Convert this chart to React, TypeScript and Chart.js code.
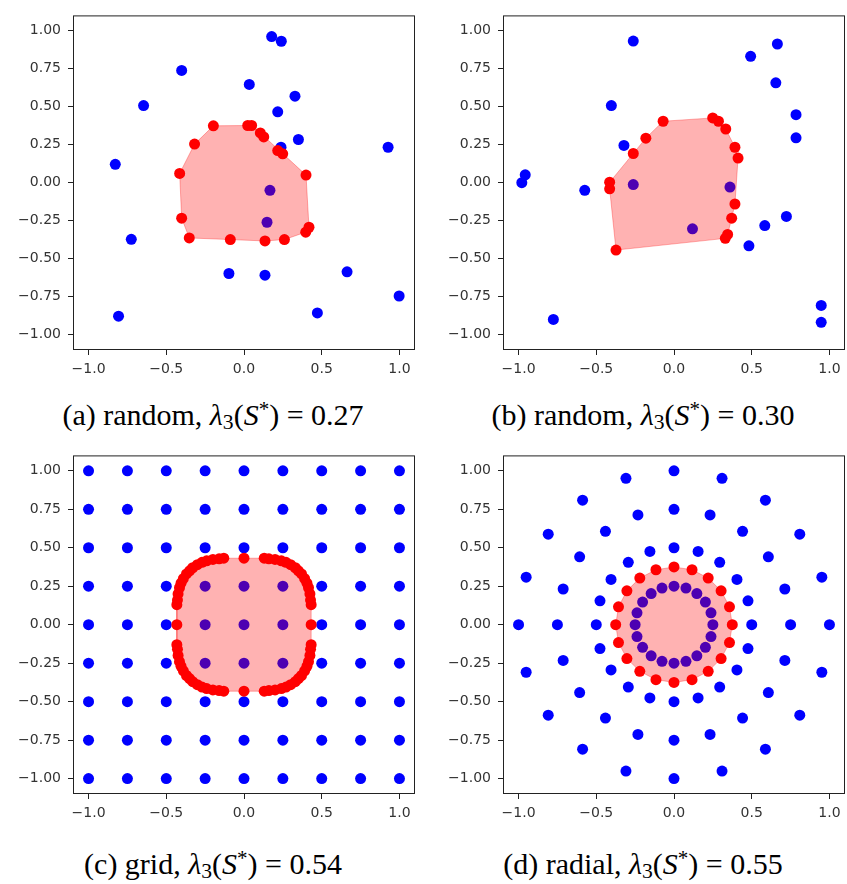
import React, { useEffect, useRef } from "react";
import { Chart, registerables } from "chart.js";

Chart.register(...registerables);

type P = [number, number];

// ---------- axes ----------
const xTickValues = [-1, -0.5, 0, 0.5, 1];
const yTickValues = [-1, -0.75, -0.5, -0.25, 0, 0.25, 0.5, 0.75, 1];
const axisMin = -1.1;
const axisMax = 1.1;

// ---------- captions ----------
const captionLabels = ["(a) random", "(b) random", "(c) grid", "(d) radial"];
const lambdaValues = ["0.27", "0.30", "0.54", "0.55"];

// ---------- (a) random ----------
const aBlue: P[] = [
  [0.178, 0.961], [0.24, 0.93], [-0.401, 0.738], [0.034, 0.646], [-0.646, 0.507],
  [0.328, 0.569], [0.217, 0.466], [0.35, 0.284], [0.238, 0.233], [0.927, 0.233],
  [-0.828, 0.121], [-0.725, -0.372], [-0.097, -0.597], [0.135, -0.608], [0.663, -0.586],
  [0.998, -0.745], [-0.807, -0.878], [0.472, -0.856], [0.167, -0.05], [0.148, -0.26],
];
const aRed: P[] = [
  [-0.197, 0.374], [0.024, 0.376], [0.049, 0.376], [0.105, 0.327], [0.127, 0.301],
  [-0.318, 0.254], [0.217, 0.211], [0.249, 0.19], [-0.414, 0.061], [0.399, 0.05],
  [-0.401, -0.233], [0.418, -0.293], [0.397, -0.325], [-0.352, -0.363], [-0.088, -0.374],
  [0.135, -0.383], [0.26, -0.374],
];

// ---------- (b) random ----------
const bBlue: P[] = [
  [-0.262, 0.931], [0.665, 0.912], [0.493, 0.831], [0.655, 0.657], [-0.403, 0.507],
  [0.785, 0.447], [0.785, 0.295], [-0.322, 0.245], [-0.957, 0.052], [-0.979, 0.0],
  [-0.574, -0.05], [0.723, -0.222], [0.584, -0.282], [0.482, -0.415], [-0.776, -0.899],
  [0.947, -0.807], [0.947, -0.918], [-0.262, -0.012], [0.36, -0.029], [0.119, -0.303],
];
const bRed: P[] = [
  [-0.07, 0.404], [-0.181, 0.293], [-0.262, 0.192], [-0.414, 0.003], [-0.414, -0.04],
  [-0.373, -0.443], [0.249, 0.426], [0.286, 0.404], [0.333, 0.353], [0.392, 0.233],
  [0.412, 0.162], [0.392, -0.14], [0.371, -0.233], [0.345, -0.34], [0.33, -0.366],
];

// ---------- (c) grid ----------
const gridValues = [-1, -0.75, -0.5, -0.25, 0, 0.25, 0.5, 0.75, 1];
const cRed: P[] = [
  [0, 0.432], [0.13, 0.432], [0.16, 0.428], [0.2, 0.424], [0.24, 0.415], [0.27, 0.405], [0.3, 0.39], [0.33, 0.37],
  [0.35, 0.35], [0.37, 0.33], [0.39, 0.3], [0.405, 0.27], [0.415, 0.24], [0.424, 0.2], [0.428, 0.16], [0.432, 0.13],
  [0.432, 0], [0.432, -0.13], [0.428, -0.16], [0.424, -0.2], [0.415, -0.24], [0.405, -0.27], [0.39, -0.3], [0.37, -0.33],
  [0.35, -0.35], [0.33, -0.37], [0.3, -0.39], [0.27, -0.405], [0.24, -0.415], [0.2, -0.424], [0.16, -0.428], [0.13, -0.432],
  [0, -0.432], [-0.13, -0.432], [-0.16, -0.428], [-0.2, -0.424], [-0.24, -0.415], [-0.27, -0.405], [-0.3, -0.39], [-0.33, -0.37],
  [-0.35, -0.35], [-0.37, -0.33], [-0.39, -0.3], [-0.405, -0.27], [-0.415, -0.24], [-0.424, -0.2], [-0.428, -0.16], [-0.432, -0.13],
  [-0.432, 0], [-0.432, 0.13], [-0.428, 0.16], [-0.424, 0.2], [-0.415, 0.24], [-0.405, 0.27], [-0.39, 0.3], [-0.37, 0.33],
  [-0.35, 0.35], [-0.33, 0.37], [-0.3, 0.39], [-0.27, 0.405], [-0.24, 0.415], [-0.2, 0.424], [-0.16, 0.428], [-0.13, 0.432],
];

// ---------- (d) radial ----------
const dRing100: P[] = [
  [1, 0], [0.951, 0.309], [0.809, 0.588], [0.588, 0.809], [0.309, 0.951],
  [0, 1], [-0.309, 0.951], [-0.588, 0.809], [-0.809, 0.588], [-0.951, 0.309],
  [-1, 0], [-0.951, -0.309], [-0.809, -0.588], [-0.588, -0.809], [-0.309, -0.951],
  [0, -1], [0.309, -0.951], [0.588, -0.809], [0.809, -0.588], [0.951, -0.309],
];
const dRing075: P[] = [
  [0.75, 0], [0.713, 0.232], [0.607, 0.441], [0.441, 0.607], [0.232, 0.713],
  [0, 0.75], [-0.232, 0.713], [-0.441, 0.607], [-0.607, 0.441], [-0.713, 0.232],
  [-0.75, 0], [-0.713, -0.232], [-0.607, -0.441], [-0.441, -0.607], [-0.232, -0.713],
  [0, -0.75], [0.232, -0.713], [0.441, -0.607], [0.607, -0.441], [0.713, -0.232],
];
const dRing050: P[] = [
  [0.5, 0], [0.476, 0.155], [0.405, 0.294], [0.294, 0.405], [0.155, 0.476],
  [0, 0.5], [-0.155, 0.476], [-0.294, 0.405], [-0.405, 0.294], [-0.476, 0.155],
  [-0.5, 0], [-0.476, -0.155], [-0.405, -0.294], [-0.294, -0.405], [-0.155, -0.476],
  [0, -0.5], [0.155, -0.476], [0.294, -0.405], [0.405, -0.294], [0.476, -0.155],
];
const dRing025: P[] = [
  [0.25, 0], [0.238, 0.077], [0.202, 0.147], [0.147, 0.202], [0.077, 0.238],
  [0, 0.25], [-0.077, 0.238], [-0.147, 0.202], [-0.202, 0.147], [-0.238, 0.077],
  [-0.25, 0], [-0.238, -0.077], [-0.202, -0.147], [-0.147, -0.202], [-0.077, -0.238],
  [0, -0.25], [0.077, -0.238], [0.147, -0.202], [0.202, -0.147], [0.238, -0.077],
];
const dRed: P[] = [
  [0.375, 0], [0.357, 0.116], [0.303, 0.22], [0.22, 0.303], [0.116, 0.357],
  [0, 0.375], [-0.116, 0.357], [-0.22, 0.303], [-0.303, 0.22], [-0.357, 0.116],
  [-0.375, 0], [-0.357, -0.116], [-0.303, -0.22], [-0.22, -0.303], [-0.116, -0.357],
  [0, -0.375], [0.116, -0.357], [0.22, -0.303], [0.303, -0.22], [0.357, -0.116],
];

// ---------- helpers ----------
function convexHull(pts: P[]): P[] {
  const s = [...pts].sort((a, b) => a[0] - b[0] || a[1] - b[1]);
  const cross = (o: P, a: P, b: P) => (a[0] - o[0]) * (b[1] - o[1]) - (a[1] - o[1]) * (b[0] - o[0]);
  const lower: P[] = [];
  for (const p of s) {
    while (lower.length >= 2 && cross(lower[lower.length - 2], lower[lower.length - 1], p) <= 0) lower.pop();
    lower.push(p);
  }
  const upper: P[] = [];
  for (let i = s.length - 1; i >= 0; i--) {
    const p = s[i];
    while (upper.length >= 2 && cross(upper[upper.length - 2], upper[upper.length - 1], p) <= 0) upper.pop();
    upper.push(p);
  }
  lower.pop();
  upper.pop();
  return lower.concat(upper);
}

const fmt = (v: number, d: number) => (v < 0 ? "\u2212" : "") + Math.abs(v).toFixed(d);

const AXIS_COLOR = "#222";
const TICK_COLOR = "#333";
const TICK_FONT = { family: "'DejaVu Sans', sans-serif", size: 14 };

const framePlugin = {
  id: "frame",
  afterDraw(chart: any) {
    const { ctx, chartArea } = chart;
    const { left, top, right, bottom } = chartArea;
    ctx.save();
    ctx.strokeStyle = AXIS_COLOR;
    ctx.lineWidth = 1;
    ctx.strokeRect(left + 0.5, top + 0.5, right - left - 1, bottom - top - 1);
    ctx.restore();
  },
};

type Box = { x: number; y: number; w: number; h: number };
type Frame = { l: number; t: number; r: number; b: number };

function Panel({ blue, red, box, frame }: { blue: P[]; red: P[]; box: Box; frame: Frame }) {
  const ref = useRef<HTMLCanvasElement>(null);
  useEffect(() => {
    const hull = convexHull(red);
    const poly = [...hull, hull[0]];
    const toXY = (arr: P[]) => arr.map(([x, y]) => ({ x, y }));
    const chart = new Chart(ref.current as HTMLCanvasElement, {
      type: "scatter",
      data: {
        datasets: [
          {
            data: toXY(red),
            backgroundColor: "#ff0000",
            pointRadius: 5.5,
            pointBorderWidth: 0,
          },
          {
            type: "line",
            data: toXY(poly),
            fill: "shape",
            backgroundColor: "rgba(255,0,0,0.3)",
            borderColor: "rgba(255,0,0,0.3)",
            borderWidth: 1,
            pointRadius: 0,
            tension: 0,
          } as any,
          {
            data: toXY(blue),
            backgroundColor: "#0000ff",
            pointRadius: 5.5,
            pointBorderWidth: 0,
          },
        ],
      },
      options: {
        responsive: false,
        animation: false,
        events: [],
        layout: {
          autoPadding: false,
          padding: { left: 0, top: frame.t - box.y, right: box.x + box.w - frame.r, bottom: 0 },
        },
        plugins: { legend: { display: false }, tooltip: { enabled: false } },
        scales: {
          x: {
            type: "linear",
            min: axisMin,
            max: axisMax,
            afterBuildTicks: (s: any) => {
              s.ticks = xTickValues.map((v) => ({ value: v }));
            },
            afterFit: (s: any) => {
              s.height = box.y + box.h - frame.b;
            },
            ticks: {
              callback: (v: any) => fmt(Number(v), 1),
              font: TICK_FONT,
              color: TICK_COLOR,
              padding: 6,
              maxRotation: 0,
              autoSkip: false,
            },
            grid: { display: true, drawOnChartArea: false, drawTicks: true, tickLength: 5, color: AXIS_COLOR, lineWidth: 1 },
            border: { display: false },
          },
          y: {
            type: "linear",
            min: axisMin,
            max: axisMax,
            afterBuildTicks: (s: any) => {
              s.ticks = yTickValues.map((v) => ({ value: v }));
            },
            afterFit: (s: any) => {
              s.width = frame.l - box.x;
            },
            ticks: {
              callback: (v: any) => fmt(Number(v), 2),
              font: TICK_FONT,
              color: TICK_COLOR,
              padding: 7,
              autoSkip: false,
            },
            grid: { display: true, drawOnChartArea: false, drawTicks: true, tickLength: 5, color: AXIS_COLOR, lineWidth: 1 },
            border: { display: false },
          },
        },
      } as any,
      plugins: [framePlugin],
    });
    return () => chart.destroy();
  }, []);
  return (
    <canvas
      ref={ref}
      width={box.w}
      height={box.h}
      style={{ position: "absolute", left: box.x, top: box.y, width: box.w, height: box.h }}
    />
  );
}

function Caption({ label, value, cx, top }: { label: string; value: string; cx: number; top: number }) {
  return (
    <div
      style={{
        position: "absolute",
        left: cx - 250,
        width: 500,
        top,
        textAlign: "center",
        fontFamily: "'Liberation Serif', 'Times New Roman', serif",
        fontSize: 30,
        lineHeight: "30px",
        color: "#000",
        whiteSpace: "nowrap",
      }}
    >
      {label}, <i>λ</i>
      <span style={{ fontSize: "0.72em", position: "relative", top: "0.2em" }}>3</span>(<i>S</i>
      <span style={{ fontSize: "0.7em", position: "relative", top: "-0.45em" }}>*</span>) = {value}
    </div>
  );
}

export default function App() {
  const cBlue: P[] = gridValues.flatMap((x) => gridValues.map((y) => [x, y] as P));
  const dBlue: P[] = [...dRing100, ...dRing075, ...dRing050, ...dRing025];
  return (
    <div style={{ position: "absolute", left: 0, top: 0, width: 847, height: 884, background: "#fff", overflow: "hidden" }}>
      <Panel blue={aBlue} red={aRed} box={{ x: 0, y: 0, w: 420, h: 385 }} frame={{ l: 73, t: 8, r: 415, b: 350 }} />
      <Panel blue={bBlue} red={bRed} box={{ x: 430, y: 0, w: 417, h: 385 }} frame={{ l: 503, t: 8, r: 845, b: 350 }} />
      <Panel blue={cBlue} red={cRed} box={{ x: 0, y: 440, w: 420, h: 390 }} frame={{ l: 73, t: 453, r: 415, b: 794 }} />
      <Panel blue={dBlue} red={dRed} box={{ x: 430, y: 440, w: 417, h: 390 }} frame={{ l: 503, t: 453, r: 845, b: 794 }} />
      <Caption label={captionLabels[0]} value={lambdaValues[0]} cx={213} top={400} />
      <Caption label={captionLabels[1]} value={lambdaValues[1]} cx={643} top={400} />
      <Caption label={captionLabels[2]} value={lambdaValues[2]} cx={213} top={849} />
      <Caption label={captionLabels[3]} value={lambdaValues[3]} cx={643} top={849} />
    </div>
  );
}
